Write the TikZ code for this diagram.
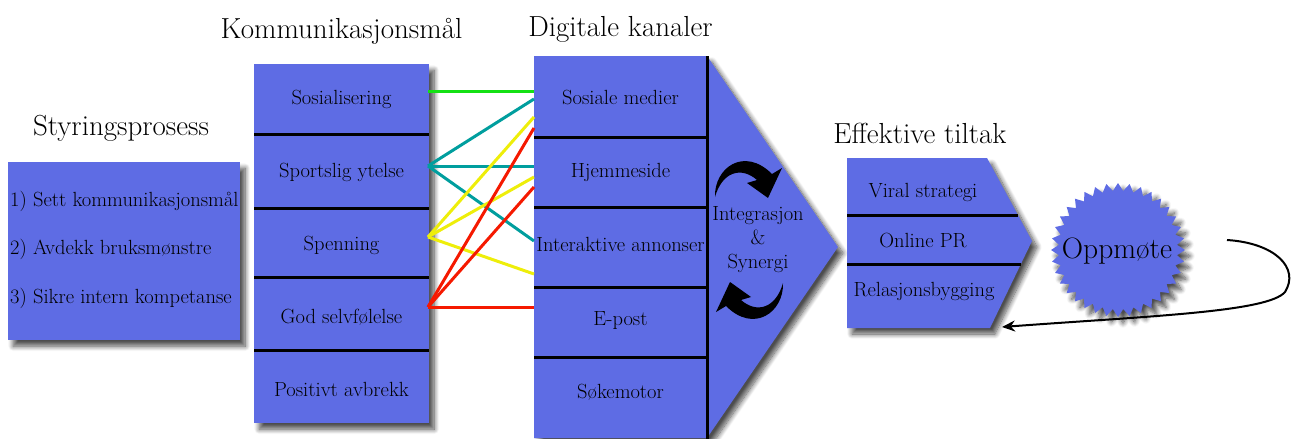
\documentclass[tikz,border=0pt]{standalone}
\usepackage{fontspec}
\usetikzlibrary{shadows.blur,shapes.geometric,arrows.meta}
\definecolor{boxblue}{RGB}{94,108,228}
\definecolor{lgreen}{RGB}{20,225,20}
\definecolor{lteal}{RGB}{0,158,158}
\definecolor{lyellow}{RGB}{238,238,10}
\definecolor{lred}{RGB}{245,25,0}
\tikzset{
  panel/.style={fill=boxblue, blur shadow={shadow xshift=5pt, shadow yshift=-6pt, shadow blur radius=5pt, shadow blur steps=10, shadow opacity=70}},
  divider/.style={line width=3pt, draw=black},
  lbl/.style={font=\fontsize{20.5}{24}\selectfont, anchor=base, inner sep=0pt},
  lbll/.style={lbl, anchor=base west},
  ttl/.style={font=\fontsize{29}{33}\selectfont, anchor=base, inner sep=0pt},
  conn/.style={line width=3pt, draw=#1},
  curlarrow/.style={fill=black},
  looparrow/.style={line width=2pt, draw=black, -{Stealth[length=13pt, width=11pt]}}
}
\begin{document}
\begin{tikzpicture}[x=1pt,y=-1pt]
\useasboundingbox (0,0) rectangle (1291,439);

% ---------- Styringsprosess ----------
\node[ttl] (t-styr) at (121,135) {Styringsprosess};
\node[panel, anchor=north west, minimum width=232pt, minimum height=178pt, inner sep=0pt] (styr) at (8,162) {};
\node[lbll] (s1) at (10,206) {1) Sett kommunikasjonsmål};
\node[lbll] (s2) at (10,254) {2) Avdekk bruksmønstre};
\node[lbll] (s3) at (10,303) {3) Sikre intern kompetanse};

% ---------- Kommunikasjonsmål ----------
\node[ttl] (t-mal) at (341.5,38) {Kommunikasjonsmål};
\node[panel, anchor=north west, minimum width=175pt, minimum height=359pt, inner sep=0pt] (mal) at (254,64) {};
\draw[divider] (254,134) -- (429,134);
\draw[divider] (254,208) -- (429,208);
\draw[divider] (254,277) -- (429,277);
\draw[divider] (254,350) -- (429,350);
\node[lbl] (m1) at (341.5,104) {Sosialisering};
\node[lbl] (m2) at (341.5,177) {Sportslig ytelse};
\node[lbl] (m3) at (341.5,250) {Spenning};
\node[lbl] (m4) at (341.5,323) {God selvfølelse};
\node[lbl] (m5) at (341.5,396) {Positivt avbrekk};

% ---------- Digitale kanaler ----------
\node[ttl] (t-kan) at (620.5,36) {Digitale kanaler};
\path[panel] (534,56) -- (707,56) -- (838,247) -- (707,438) -- (534,438) -- cycle;
\coordinate (kantip) at (838,247);
\draw[divider] (534,137) -- (707,137);
\draw[divider] (534,207) -- (707,207);
\draw[divider] (534,287) -- (707,287);
\draw[divider] (534,357) -- (707,357);
\draw[divider] (707,56) -- (707,439);
\node[lbl] (k1) at (620.5,104) {Sosiale medier};
\node[lbl] (k2) at (620.5,177) {Hjemmeside};
\node[lbl] (k3) at (620.5,251) {Interaktive annonser};
\node[lbl] (k4) at (620.5,325) {E-post};
\node[lbl] (k5) at (620.5,398) {Søkemotor};

% integration text
\node[lbl] (i1) at (758,220) {Integrasjon};
\node[lbl] (i2) at (758,244) {\&};
\node[lbl] (i3) at (758,268) {Synergi};

% curled arrows
\path[curlarrow] (715,197) .. controls (714,168) and (744,146) .. (772,174)
   -- (782,168) -- (768,198) -- (747,183) -- (757,180)
   .. controls (741,166) and (722,172) .. (715,197) -- cycle;
\begin{scope}[rotate around={180:(749,240)}]
\path[curlarrow] (715,197) .. controls (714,168) and (744,146) .. (772,174)
   -- (782,168) -- (768,198) -- (747,183) -- (757,180)
   .. controls (741,166) and (722,172) .. (715,197) -- cycle;
\end{scope}

% ---------- coloured links ----------
\coordinate (pm1) at (428,91);
\coordinate (pm2) at (428,166);
\coordinate (pm3) at (428,237);
\coordinate (pm4) at (428,307);
\coordinate (g1) at (534,91);
\coordinate (c1) at (534,99);
\coordinate (c2) at (534,166);
\coordinate (c3) at (534,241);
\coordinate (y1) at (534,117);
\coordinate (y2) at (534,177);
\coordinate (y3) at (534,274);
\coordinate (r1) at (534,128);
\coordinate (r2) at (534,187);
\coordinate (r3) at (534,307);
\draw[conn=lgreen] (pm1) -- (g1);
\draw[conn=lteal] (pm2) -- (c1);
\draw[conn=lteal] (pm2) -- (c2);
\draw[conn=lteal] (pm2) -- (c3);
\draw[conn=lyellow] (pm3) -- (y1);
\draw[conn=lyellow] (pm3) -- (y2);
\draw[conn=lyellow] (pm3) -- (y3);
\draw[conn=lred] (pm4) -- (r1);
\draw[conn=lred] (pm4) -- (r2);
\draw[conn=lred] (pm4) -- (r3);

% ---------- Effektive tiltak ----------
\node[ttl] (t-tilt) at (920,143) {Effektive tiltak};
\path[panel] (847,158) -- (987,158) -- (1032,241) -- (990,328) -- (847,328) -- cycle;
\draw[divider] (847,215) -- (1018,215);
\draw[divider] (847,264) -- (1020.5,264);
\node[lbl] (e1) at (923,197) {Viral strategi};
\node[lbl] (e2) at (923,247) {Online PR};
\node[lbl] (e3) at (924,296) {Relasjonsbygging};
\coordinate (tiltcorner) at (1002,327);

% ---------- Oppmøte ----------
\node[star, star points=36, star point ratio=1.13, minimum size=134pt, inner sep=0pt, panel] (star) at (1118,250) {};
\node[font=\fontsize{29.5}{33}\selectfont, inner sep=0pt, anchor=base] (opp) at (1117,258) {Oppmøte};
\coordinate (looptail) at (1227,240);
\draw[looparrow] (looptail) .. controls (1275,243) and (1300,268) .. (1285,292)
   .. controls (1268,312) and (1150,316) .. (tiltcorner);
\end{tikzpicture}
\end{document}
